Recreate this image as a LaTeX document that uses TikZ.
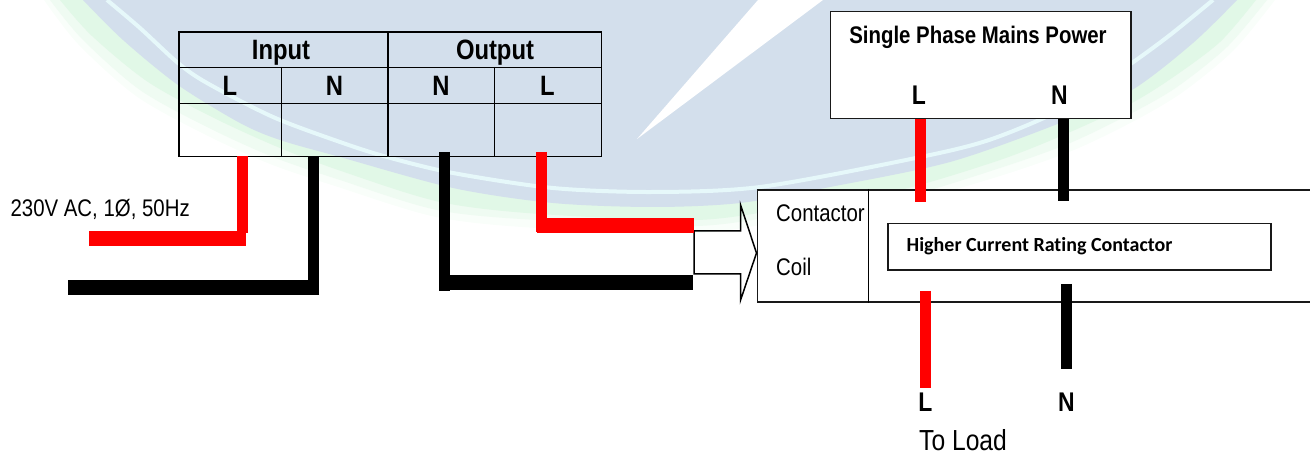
\documentclass[tikz,border=0pt]{standalone}
\usepackage{fontspec}
\setmainfont{Liberation Sans}
\newfontfamily\narrowf{Liberation Sans}[FakeStretch=0.85]
\newfontfamily\narrowb{Liberation Sans Bold}[FakeStretch=0.85]
\newfontfamily\carl{Carlito Bold}[Ligatures=NoCommon]
\definecolor{wmblue}{HTML}{D3DFEC}
\definecolor{wmarc}{HTML}{E6F8FA}
\definecolor{wmgreen}{HTML}{E1F8E7}
\definecolor{wmgreenb}{HTML}{EFFBF2}
\definecolor{wmgreenc}{HTML}{F9FEFA}
\definecolor{wirered}{HTML}{FF0000}
\tikzset{
  x=1pt,y=-1pt,
  cell/.style={inner sep=0pt,anchor=north west},
  tline/.style={draw=black,line width=1.7pt},
  tthin/.style={draw=black,line width=1pt},
  plainbox/.style={draw=black!90,fill=white,line width=1.6pt,inner sep=0pt,anchor=north west},
  wire/.style={line width=11pt,line cap=butt},
  rw/.style={wire,draw=wirered},
  bw/.style={wire,draw=black},
  hwire/.style={line width=15pt,line cap=butt},
  rh/.style={hwire,draw=wirered},
  bh/.style={hwire,draw=black},
  head/.style={inner sep=0pt,anchor=base,font=\narrowb\fontsize{28}{28}\selectfont},
  headb/.style={inner sep=0pt,anchor=base,font=\narrowb\fontsize{27}{27}\selectfont},
  small/.style={inner sep=0pt,anchor=base west,font=\narrowf\fontsize{24}{24}\selectfont},
}
\begin{document}
\begin{tikzpicture}
\useasboundingbox (0,0) rectangle (1310,454);
% watermark
\fill[wmgreenc] plot[smooth] coordinates {(44,0) (78,44) (136,96) (204,134) (270,164) (338,187) (436,217) (537,228) (697,233) (800,218) (900,204) (1000,176) (1074,150) (1136,120) (1183,92) (1234,50) (1275,0)} -- cycle;
\fill[wmgreenb] plot[smooth] coordinates {(50,0) (83,40) (140,90) (207,127) (273,157) (340,180) (437,210) (537,220) (697,226) (800,212) (900,198) (1000,168) (1070,143) (1132,113) (1177,87) (1227,47) (1267,0)} -- cycle;
\fill[wmgreen] plot[smooth] coordinates {(60,0) (92,36) (148,82) (214,118) (280,148) (344,172) (440,202) (540,214) (697,220) (800,206) (900,190) (1000,160) (1068,133) (1130,104) (1172,78) (1220,42) (1256,0)} -- cycle;
\fill[wmblue] plot[smooth] coordinates {(83,0) (123,40) (178,85) (240,123) (280,140) (340,157) (453,188) (553,203) (653,207) (740,203) (830,187) (950,162) (1060,123) (1132,90) (1193,43) (1237,0)} -- cycle;
\draw[wmarc,line width=4pt] plot[smooth] coordinates {(107,0) (140,28) (178,63) (207,83) (273,117) (340,142) (387,157) (453,173) (553,188) (653,192) (760,187) (906,160) (989,140) (1073,104) (1132,63) (1170,35) (1213,0)};
\fill[white] (637,139) -- (758,0) -- (823,0) -- cycle;
% table
\node[cell,minimum width=209pt,minimum height=35pt] (input) at (179,32) {};
\node[cell,minimum width=213pt,minimum height=35pt] (output) at (388,32) {};
\node[cell,minimum width=102pt,minimum height=36pt] (inLh) at (179,67) {};
\node[cell,minimum width=107pt,minimum height=36pt] (inNh) at (281,67) {};
\node[cell,minimum width=106pt,minimum height=36pt] (outNh) at (388,67) {};
\node[cell,minimum width=107pt,minimum height=36pt] (outLh) at (494,67) {};
\node[cell,minimum width=102pt,minimum height=53pt] (inL) at (179,103) {};
\node[cell,minimum width=107pt,minimum height=53pt] (inN) at (281,103) {};
\node[cell,minimum width=106pt,minimum height=53pt] (outN) at (388,103) {};
\node[cell,minimum width=107pt,minimum height=53pt] (outL) at (494,103) {};
\draw[tline] (input.north west) rectangle (outL.south east);
\draw[tline] (input.south west) -- (output.south east);
\draw[tline] (inLh.south west) -- (outLh.south east);
\draw[tline] (output.north west) -- (outN.south west);
\draw[tline] (inLh.north east) -- (inL.south east);
\draw[tthin] (outNh.north east) -- (outN.south east);
\node[head] (tInput) at (281,60) {Input};
\node[head] (tOutput) at (495,60) {Output};
\node[head] (tinL) at (230,96) {L};
\node[head] (tinN) at (334.5,96) {N};
\node[head] (toutN) at (441,96) {N};
\node[head] (toutL) at (547.5,96) {L};
% input and output wires
\coordinate (rA) at (242.5,233);
\coordinate (rB) at (245.6,238.5);
\coordinate (rC) at (88.5,238.5);
\draw[rw] (rA |- inL.south) -- (rA);
\draw[rh] (rB) -- (rC);
\coordinate (bA) at (313.5,287.5);
\coordinate (bB) at (68,287.5);
\draw[bw] (bA |- inN.south) -- (313.5,295);
\draw[bh] (319,287.5) -- (bB);
\coordinate (oB) at (444.5,152);
\coordinate (oB2) at (444.5,291);
\coordinate (oB3) at (692.5,282.5);
\draw[bw] (oB) -- (oB2);
\coordinate (oR) at (541,152);
\coordinate (oR2) at (541,232);
\coordinate (oR3) at (694,225.5);
\draw[rw] (oR) -- (oR2);
% contactor
\node[plainbox,minimum width=560pt,minimum height=112pt] (contactor) at (756.5,189) {};
\coordinate (divT) at (868.5,189);
\draw[line width=1.2pt,black] (divT) -- (divT |- contactor.south);
\draw[line width=1.5pt,black] (694,231) -- (740.6,231) -- (740.6,205) -- (756.5,253) -- (740.6,300) -- (740.6,274) -- (694,274) -- cycle;
\draw[rh] (537,225.5) -- (oR3);
\draw[bh] (oB |- oB3) -- (oB3);
\node[small] (tCont) at (776,222) {Contactor};
\node[small] (tCoil) at (776,275.5) {Coil};
\node[plainbox,minimum width=383pt,minimum height=46.5pt] (rating) at (887,222.7) {};
\node[inner sep=0pt,anchor=base west,font=\carl\fontsize{20}{20}\selectfont] (tRating) at (906.5,252) {Higher Current Rating Contactor};
% mains
\node[plainbox,minimum width=300.5pt,minimum height=107pt] (mains) at (829.6,10.7) {};
\node[inner sep=0pt,anchor=base,font=\narrowb\fontsize{24}{24}\selectfont] (tMains) at (978,44) {Single Phase Mains Power};
\node[headb] (tmL) at (919,105) {L};
\node[headb] (tmN) at (1059.5,105) {N};
\coordinate (mL) at (920,202);
\coordinate (mN) at (1063,201);
\draw[rw] (mL |- mains.south) -- (mL);
\draw[bw] (mN |- mains.south) -- (mN);
% load
\coordinate (lLa) at (925,291);
\coordinate (lLb) at (925,388);
\coordinate (lNa) at (1066.5,284);
\coordinate (lNb) at (1066.5,369);
\draw[rw] (lLa) -- (lLb);
\draw[bw] (lNa) -- (lNb);
\node[headb] (tlL) at (925.5,411.7) {L};
\node[headb] (tlN) at (1066.5,411.7) {N};
\node[inner sep=0pt,anchor=base west,font=\narrowf\fontsize{29}{29}\selectfont] (tLoad) at (919,450) {To Load};
\node[small] (tSupply) at (10.4,216.5) {230V AC, 1Ø, 50Hz};
\end{tikzpicture}
\end{document}
